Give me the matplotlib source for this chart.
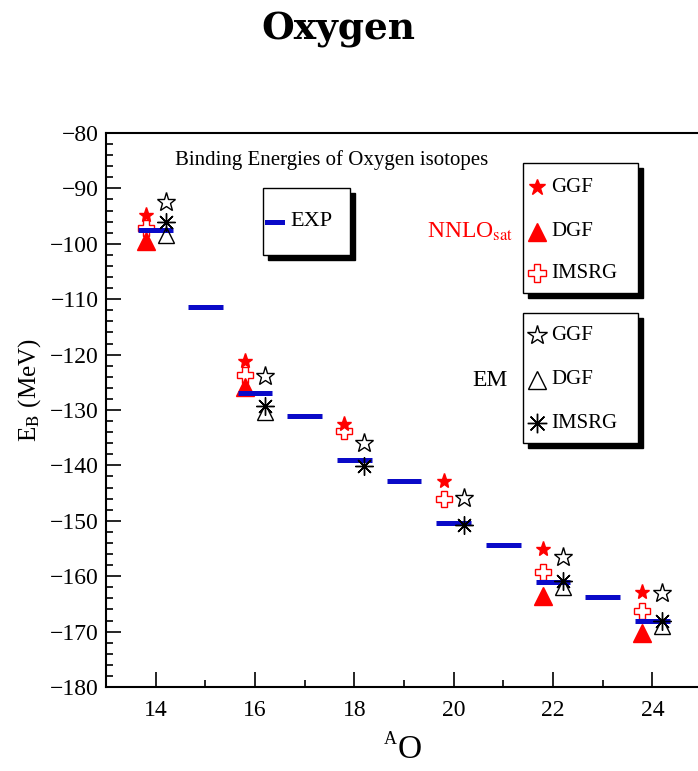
import numpy as np
import matplotlib
matplotlib.use('Agg')
import matplotlib.pyplot as plt
from matplotlib.patches import Rectangle
from matplotlib.lines import Line2D

plt.rcParams['font.family'] = ['Liberation Serif', 'DejaVu Serif']
plt.rcParams['mathtext.fontset'] = 'stix'

# mass numbers and binding energies (MeV)
A_exp = [14, 15, 16, 17, 18, 19, 20, 21, 22, 23, 24]
E_exp = [-97.5, -111.35, -126.85, -131.1, -139.1, -142.9, -150.45, -154.4, -161.0, -163.8, -168.05]

A_th = [14, 16, 18, 20, 22, 24]
nnlo_ggf = [-94.8, -121.2, -132.6, -142.8, -155.1, -162.9]
nnlo_dgf = [-99.5, -125.8, np.nan, np.nan, -163.6, -170.25]
nnlo_imsrg = [-97.1, -123.6, -133.8, -146.1, -159.2, -166.25]
em_ggf = [-92.45, -123.9, -135.9, -145.8, -156.6, -163.05]
em_dgf = [-98.4, -130.45, np.nan, np.nan, -162.0, -168.95]
em_imsrg = [-96.1, -129.3, -140.1, -150.8, -160.8, -168.05]

W, H = 698, 771
fig = plt.figure(figsize=(W / 100, H / 100), dpi=100)

def fx(px):
    return px / W

def fy(py):
    return 1 - py / H

ax = fig.add_axes([fx(106), fy(687), 596 / W, (687 - 133) / H])

red = '#ff0000'
blue = '#0a0ac8'
xr = np.array(A_th) - 0.2
xb = np.array(A_th) + 0.2
asterisk = (8, 2, 0)

ax.plot(xr, nnlo_dgf, ls='none', marker='^', ms=13, color=red, zorder=3)
ax.plot(xr, nnlo_imsrg, ls='none', marker='P', ms=12, mfc='none', mec=red, mew=1.0, zorder=3)
ax.plot(xr, nnlo_ggf, ls='none', marker='*', ms=11, color=red, zorder=3)

ax.hlines(E_exp, np.array(A_exp) - 0.35, np.array(A_exp) + 0.35, colors=blue, lw=3.6, zorder=4)

ax.plot(xb, em_dgf, ls='none', marker='^', ms=12, mfc='none', mec='black', mew=1.0, zorder=5)
ax.plot(xb, em_ggf, ls='none', marker='*', ms=14, mfc='none', mec='black', mew=1.0, zorder=5)
ax.plot(xb, em_imsrg, ls='none', marker=asterisk, ms=13, color='black', mew=1.0, zorder=5)

ax.set_xlim(13, 25)
ax.set_ylim(-180, -80)
ax.set_xticks([14, 16, 18, 20, 22, 24])
ax.set_xticks(np.arange(13, 26, 1), minor=True)
ax.set_yticks(np.arange(-180, -79, 10))
ax.set_yticks(np.arange(-180, -79, 2), minor=True)
ax.set_yticklabels([f'\u2212{abs(v)}' for v in np.arange(-180, -79, 10)])
ax.tick_params(which='major', direction='in', length=11, width=1.2, labelsize=17)
ax.tick_params(which='minor', direction='in', length=5, width=1.2)
ax.tick_params(axis='x', pad=9)
ax.tick_params(axis='y', pad=5)
for s in ax.spines.values():
    s.set_linewidth(1.5)

ax.text(fx(175), fy(165), 'Binding Energies of Oxygen isotopes', transform=fig.transFigure,
        fontsize=15, ha='left', va='baseline')

# title and axis labels
fig.text(fx(338), fy(40), 'Oxygen', family='DejaVu Serif', weight='bold', fontsize=27,
         ha='center', va='baseline')
fig.text(fx(30), fy(390), r'E$_{\rm B}$ (MeV)', rotation=90, fontsize=18, ha='center', va='center')
fig.text(fx(410), fy(750), 'O', fontsize=24, ha='center', va='center')
fig.text(fx(390), fy(739), 'A', fontsize=13, ha='center', va='center')

def box(x0, y0, x1, y1):
    fig.patches.append(Rectangle((fx(x0 + 5), fy(y1 + 5)), fx(x1) - fx(x0), fy(y0) - fy(y1),
                                 transform=fig.transFigure, fc='black', ec='black', zorder=6))
    fig.patches.append(Rectangle((fx(x0), fy(y1)), fx(x1) - fx(x0), fy(y0) - fy(y1),
                                 transform=fig.transFigure, fc='white', ec='black', lw=1.0, zorder=7))

def entry(px, py, label, **kw):
    fig.lines.append(Line2D([fx(px)], [fy(py)], transform=fig.transFigure, ls='none', zorder=8, **kw))
    fig.text(fx(px + 14), fy(py), label, fontsize=15, ha='left', va='center', zorder=8)

box(263, 188, 350, 255)
fig.lines.append(Line2D([fx(267), fx(282)], [fy(222), fy(222)], transform=fig.transFigure,
                        color=blue, lw=3.6, zorder=8))
fig.text(fx(290), fy(222), 'EXP', fontsize=16, ha='left', va='center', zorder=8)

box(523, 163, 638, 293)
entry(537, 187, 'GGF', marker='*', ms=12, color=red)
entry(537, 232, 'DGF', marker='^', ms=13, color=red)
entry(537, 273, 'IMSRG', marker='P', ms=13, mfc='none', mec=red, mew=1.0)
fig.text(fx(470), fy(232), r'NNLO$_{\rm sat}$', color=red, fontsize=17, ha='center', va='center')

box(523, 313, 638, 443)
entry(537, 335, 'GGF', marker='*', ms=15, mfc='none', mec='black', mew=1.0)
entry(537, 380, 'DGF', marker='^', ms=13, mfc='none', mec='black', mew=1.0)
entry(537, 423, 'IMSRG', marker=asterisk, ms=14, color='black', mew=1.0)
fig.text(fx(490), fy(380), 'EM', fontsize=17, ha='center', va='center')

fig.savefig('out.png', dpi=100)
